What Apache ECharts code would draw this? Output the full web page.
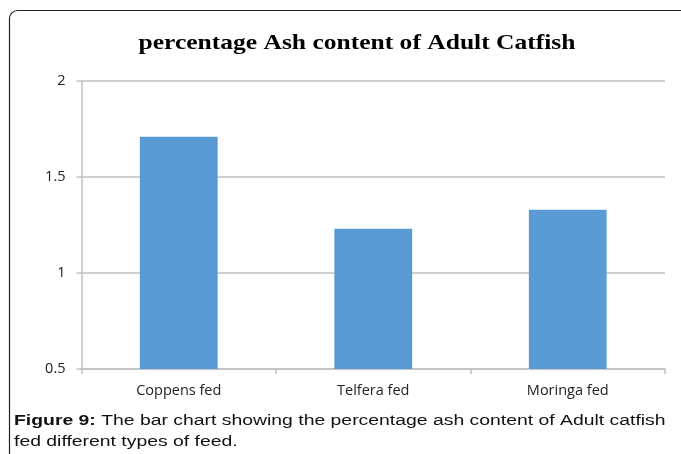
<!DOCTYPE html>
<html>
<head>
<meta charset="utf-8">
<script src="https://cdn.jsdelivr.net/npm/echarts@6/dist/echarts.min.js"></script>
<style>
  html, body { margin: 0; padding: 0; background: #fff; }
  #chart { width: 681px; height: 454px; }
</style>
</head>
<body>
<div id="chart"></div>
<script>
// Feed groups and their ash content (%)
const categories = ['Coppens fed', 'Telfera fed', 'Moringa fed'];
const ashValues = [1.71, 1.23, 1.33];
const yTicks = { min: 0.5, max: 2, step: 0.5 };
const chartTitle = 'percentage Ash content of Adult Catfish';
const captionLabel = 'Figure 9:';
const captionText = ' The bar chart showing the percentage ash content of Adult catfish\nfed different types of feed.';

const chart = echarts.init(document.getElementById('chart'));
const gridColor = '#c0c0c0';
const labelFont = { fontFamily: 'Open Sans', fontSize: 14.5, color: '#222' };

chart.setOption({
  animation: false,
  grid: { left: 81.5, right: 16, top: 81, bottom: 85 },
  xAxis: {
    type: 'category',
    data: categories,
    axisLine: { lineStyle: { color: gridColor, width: 1.5 } },
    axisTick: { show: true, length: 5, lineStyle: { color: gridColor, width: 1.5 } },
    axisLabel: Object.assign({ margin: 14 }, labelFont)
  },
  yAxis: {
    type: 'value',
    min: yTicks.min,
    max: yTicks.max,
    interval: yTicks.step,
    axisLine: { show: true, lineStyle: { color: gridColor, width: 1.5 } },
    axisTick: { show: true, length: 5, lineStyle: { color: gridColor, width: 1.5 } },
    splitLine: { lineStyle: { color: gridColor, width: 1.5 } },
    axisLabel: Object.assign({ margin: 16 }, labelFont)
  },
  series: [{
    type: 'bar',
    data: ashValues,
    barWidth: '40%',
    itemStyle: { color: '#5b9bd5' }
  }],
  graphic: [
    // outer frame with a rounded top-left corner
    {
      type: 'rect',
      shape: { x: 9.5, y: 10.5, width: 720, height: 500, r: [8, 0, 0, 0] },
      style: { fill: null, stroke: '#222', lineWidth: 1.2 },
      silent: true
    },
    // chart title
    {
      type: 'text',
      x: 357,
      y: 32,
      scaleX: 1.16,
      style: {
        text: chartTitle,
        align: 'center',
        verticalAlign: 'top',
        fontFamily: 'Liberation Serif',
        fontWeight: 'bold',
        fontSize: 22,
        fill: '#000'
      }
    },
    // figure caption
    {
      type: 'text',
      x: 14,
      y: 410,
      scaleX: 1.25,
      style: {
        text: '{b|' + captionLabel + '}' + captionText,
        verticalAlign: 'top',
        fontFamily: 'Liberation Sans',
        fontSize: 15.5,
        lineHeight: 21,
        fill: '#111',
        rich: {
          b: { fontFamily: 'Liberation Sans', fontWeight: 'bold', fontSize: 15.5, lineHeight: 21, fill: '#111' }
        }
      }
    }
  ]
});
</script>
</body>
</html>
